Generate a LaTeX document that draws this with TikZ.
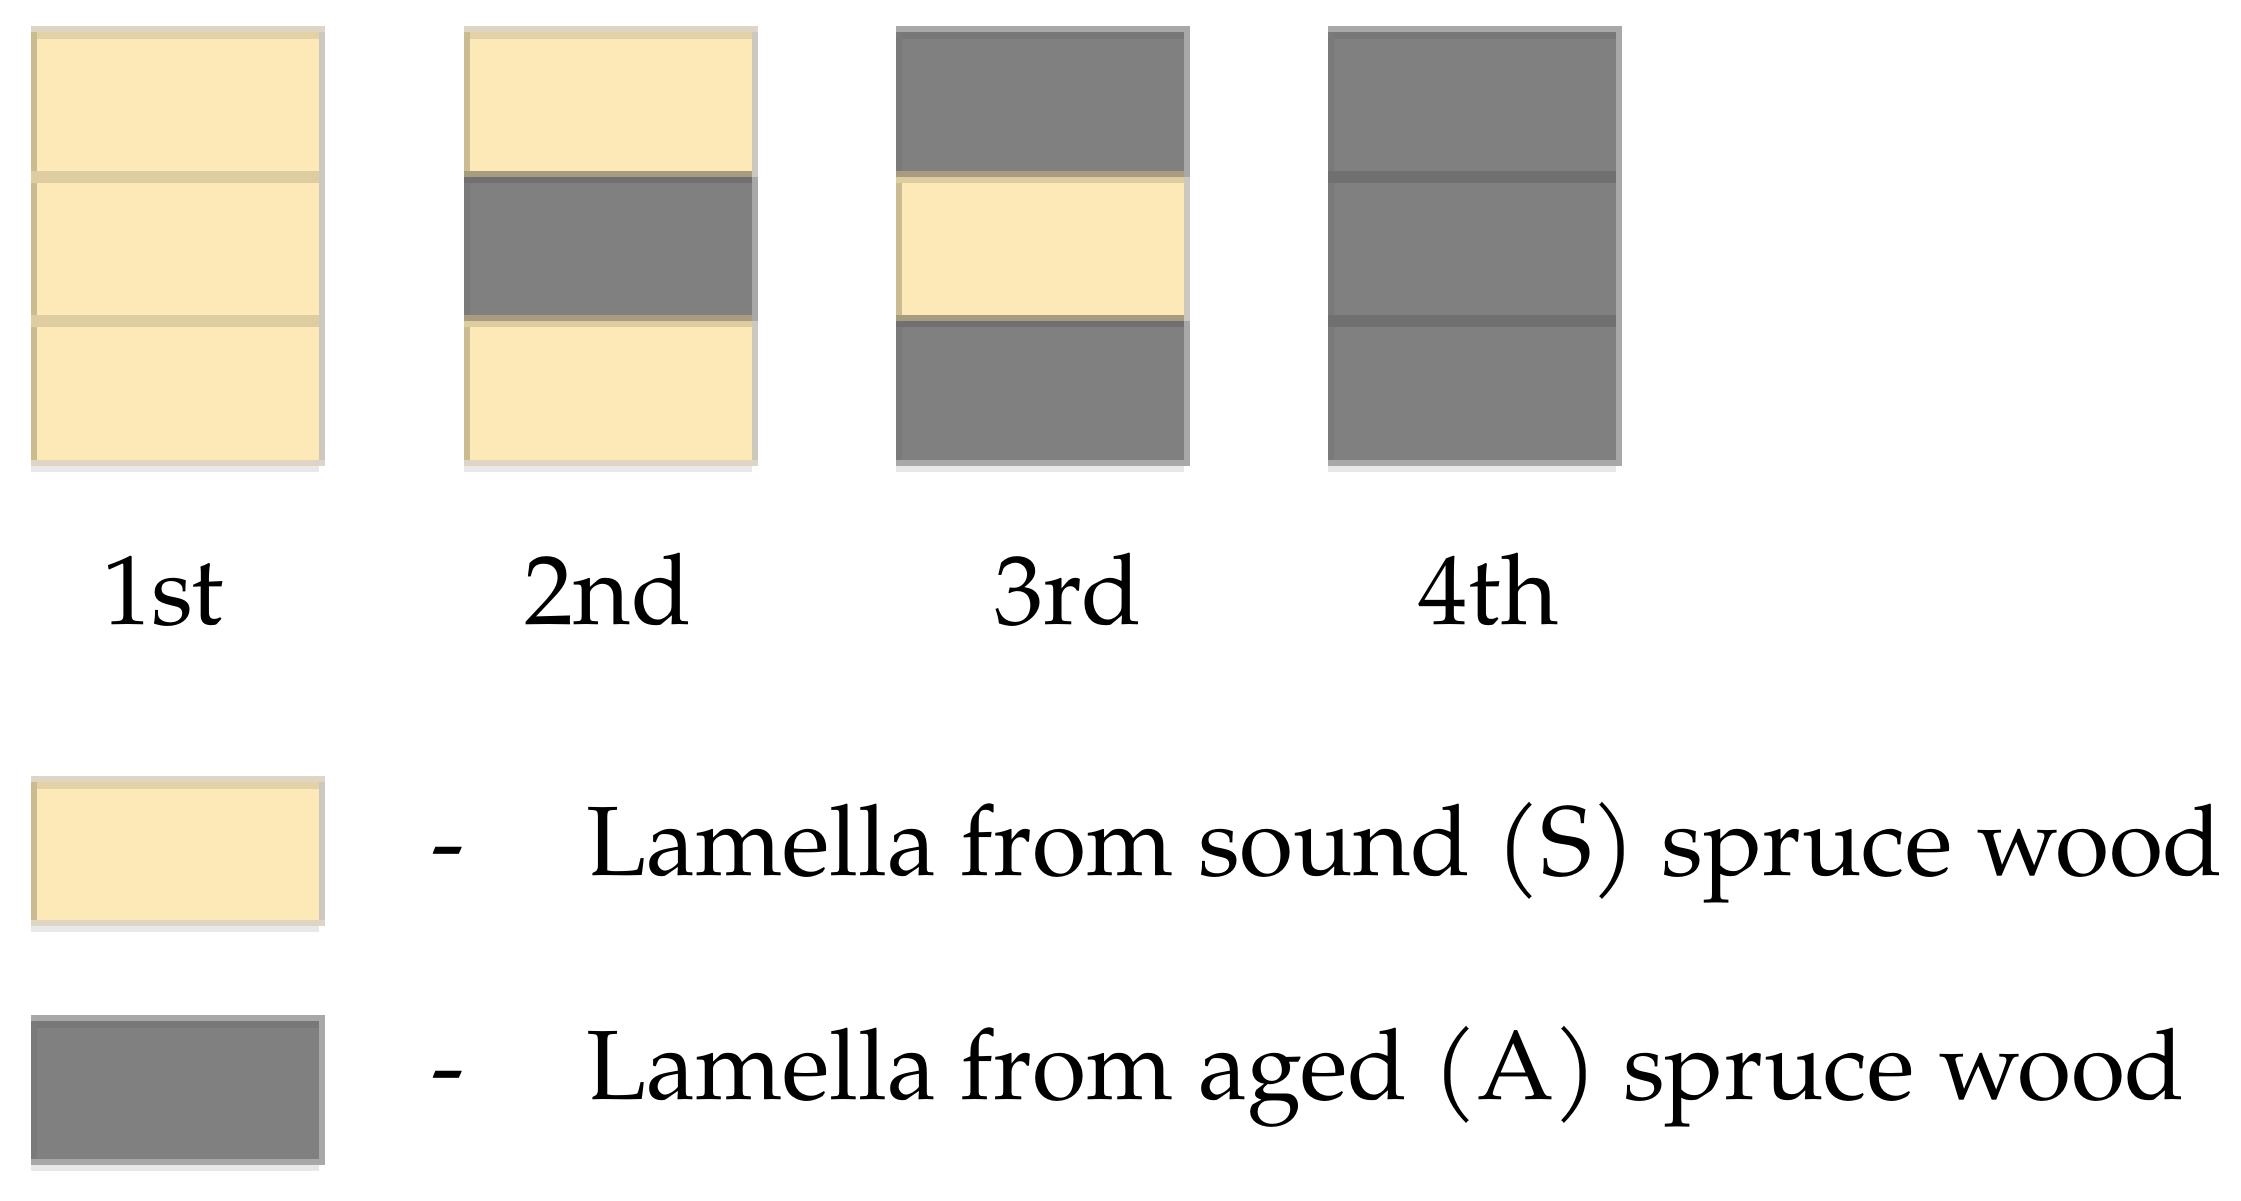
\documentclass[tikz,border=0pt]{standalone}
\usepackage{fontspec}
\setmainfont{TeX Gyre Pagella}
\definecolor{sound}{HTML}{FDE9B8}
\definecolor{soundL}{HTML}{CBBB90}
\definecolor{soundR}{HTML}{CCC8BE}
\definecolor{soundT}{HTML}{DED5C4}
\definecolor{soundTT}{HTML}{E3D2A8}
\definecolor{soundD}{HTML}{DFCDA2}
\definecolor{aged}{HTML}{808080}
\definecolor{agedL}{HTML}{7A7A7A}
\definecolor{agedR}{HTML}{A8A8A8}
\definecolor{agedT}{HTML}{A8A8A8}
\definecolor{agedTT}{HTML}{787878}
\definecolor{agedD}{HTML}{707070}
\definecolor{mixD}{HTML}{A89C80}
\definecolor{shadowc}{HTML}{E8E8E8}
\newcommand\myLamStrip[4]{% x, ytop, ybot, type
  \fill[#4] (#1,#2) rectangle ({#1+294},#3);
  \fill[#4L] (#1,#2) rectangle ({#1+6},#3);
  \fill[#4R] ({#1+288},#2) rectangle ({#1+294},#3);
}
\newcommand\myLamFrame[4]{% x, ytop, ybot, type
  \fill[#4T] (#1,#2) rectangle ({#1+294},{#2+6});
  \fill[#4TT] ({#1+6},{#2+6}) rectangle ({#1+288},{#2+13});
  \fill[shadowc] (#1,#3) rectangle ({#1+288},{#3+6});
}
\newcommand\myLamDiv[4]{% x, y (interface), top-half colour, lower type
  \fill[#3] (#1,{#2-6}) rectangle ({#1+288},#2);
  \fill[#4D] (#1,#2) rectangle ({#1+288},{#2+6});
}
\newcommand\myLamCol[6]{% x, top, mid, bottom, div1 top colour, div2 top colour
  \myLamStrip{#1}{26}{177}{#2}
  \myLamStrip{#1}{177}{321}{#3}
  \myLamStrip{#1}{321}{466}{#4}
  \myLamFrame{#1}{26}{466}{#2}
  \fill[#4T] (#1,460) rectangle ({#1+294},466);
  \myLamDiv{#1}{177}{#5}{#3}
  \myLamDiv{#1}{321}{#6}{#4}
}
\begin{document}
\begin{tikzpicture}[x=1pt,y=-1pt,
  lab/.style={font=\fontsize{98.5}{118}\selectfont, inner sep=0pt, anchor=base},
  legtext/.style={font=\fontsize{98.5}{118}\selectfont, inner sep=0pt, anchor=base west}]
\useasboundingbox[fill=white] (0,0) rectangle (2241,1201);
% columns
\myLamCol{31}{sound}{sound}{sound}{soundD}{soundD}
\myLamCol{464}{sound}{aged}{sound}{mixD}{mixD}
\myLamCol{896}{aged}{sound}{aged}{mixD}{mixD}
\myLamCol{1328}{aged}{aged}{aged}{agedD}{agedD}
% labels
\node[lab] (l1) at (163,624) {1st};
\node[lab] (l2) at (608,624) {2nd};
\node[lab] (l3) at (1068,624) {3rd};
\node[lab] (l4) at (1489,624) {4th};
% legend boxes
\myLamStrip{31}{776}{926}{sound}
\myLamFrame{31}{776}{926}{sound}
\fill[soundT] (31,920) rectangle (325,926);
\myLamStrip{31}{1015}{1165}{aged}
\myLamFrame{31}{1015}{1165}{aged}
\fill[agedT] (31,1159) rectangle (325,1165);
% legend texts
\node[lab] (d1) at (448,875) {-};
\node[legtext] (t1) at (586,875) {Lamella from sound (S) spruce wood};
\node[lab] (d2) at (448,1099) {-};
\node[legtext] (t2) at (586,1099) {Lamella from aged (A) spruce wood};
\end{tikzpicture}
\end{document}
